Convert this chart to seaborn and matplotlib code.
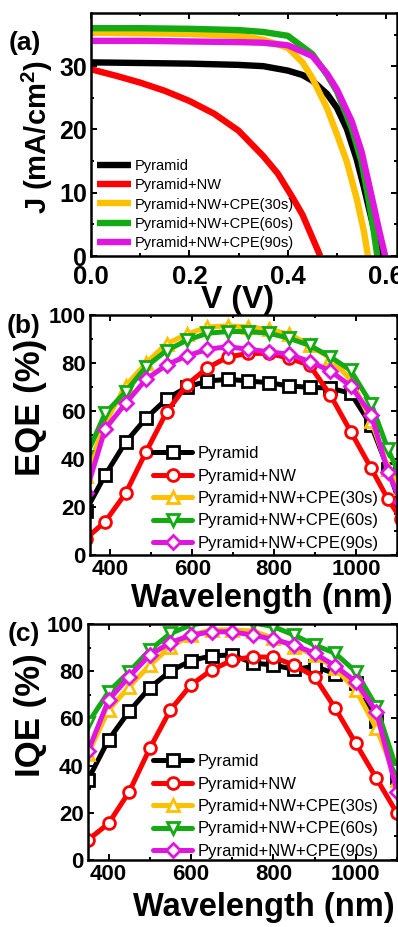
import matplotlib
matplotlib.use("Agg")
import matplotlib.pyplot as plt
import seaborn as sns
import pandas as pd
from matplotlib.ticker import MultipleLocator

# ---------------- data ----------------
labels = ["Pyramid", "Pyramid+NW", "Pyramid+NW+CPE(30s)",
          "Pyramid+NW+CPE(60s)", "Pyramid+NW+CPE(90s)"]
colors = ["#000000", "#FF0000", "#FFC000", "#14AA14", "#E016E0"]
markers = ["s", "o", "^", "v", "D"]

# (a) J-V curves
v_pyr = [0.0, 0.1, 0.2, 0.3, 0.35, 0.4, 0.43, 0.45, 0.48, 0.5, 0.52, 0.54, 0.555, 0.57, 0.58, 0.588]
j_pyr = [30.6, 30.5, 30.4, 30.2, 30.0, 29.3, 28.6, 27.7, 25.6, 23.4, 20.1, 15.3, 10.8, 5.9, 2.6, 0.0]
v_nw = [0.0, 0.05, 0.1, 0.15, 0.2, 0.25, 0.3, 0.35, 0.38, 0.41, 0.43, 0.45, 0.466]
j_nw = [29.5, 28.5, 27.4, 26.1, 24.5, 22.5, 19.8, 15.8, 13.0, 9.2, 6.5, 2.9, 0.0]
v_30 = [0.0, 0.1, 0.2, 0.3, 0.35, 0.4, 0.43, 0.45, 0.48, 0.5, 0.52, 0.54, 0.555, 0.563]
j_30 = [35.3, 35.2, 35.1, 34.8, 34.2, 32.9, 30.6, 28.1, 23.3, 19.2, 14.9, 9.1, 3.8, 0.0]
v_60 = [0.0, 0.1, 0.2, 0.3, 0.35, 0.4, 0.45, 0.48, 0.5, 0.53, 0.55, 0.565, 0.575, 0.582]
j_60 = [36.0, 36.0, 35.9, 35.7, 35.4, 34.8, 31.9, 28.6, 26.0, 20.2, 14.9, 8.6, 3.8, 0.0]
v_90 = [0.0, 0.1, 0.2, 0.3, 0.35, 0.4, 0.45, 0.48, 0.5, 0.53, 0.55, 0.57, 0.585, 0.598]
j_90 = [34.0, 34.0, 33.9, 33.8, 33.7, 33.3, 31.6, 28.8, 26.3, 21.3, 16.5, 9.6, 4.3, 0.0]

# (b) EQE
wl_eqe = [340, 387, 437, 487, 537, 587, 637, 687, 737, 787, 837, 887, 937, 987, 1037, 1078, 1110]
eqe_pyr = [18.5, 33.3, 47, 57, 65, 70, 72.5, 73.2, 72.5, 71.8, 70.4, 69.9, 69.5, 67.4, 54, 36, 20]
eqe_nw = [6.8, 13.9, 25.7, 43, 59.5, 71, 78, 82.5, 84, 84, 82, 79, 66.7, 51.4, 36.1, 23.2, 15]
eqe_30 = [33, 55, 70.5, 80, 88, 92, 95, 95.5, 95, 94, 92, 87.5, 82, 73, 56, 36, 28]
eqe_60 = [41, 59, 68, 78.5, 85.2, 89.5, 92.4, 93.1, 93.1, 92.4, 90.3, 87.3, 82.6, 76.9, 63, 44, 32]
eqe_90 = [26, 52.5, 63.2, 73.2, 79.2, 83, 85.7, 86.8, 85.7, 84.7, 83.6, 80.6, 76.7, 70.4, 58.5, 34.7, 22]

# (c) IQE
wl_iqe = [350, 400, 450, 500, 550, 600, 650, 700, 750, 800, 850, 900, 950, 1000, 1050, 1100]
iqe_pyr = [34, 51, 63, 73, 80, 84.5, 86.5, 86.9, 83.5, 82.6, 80.8, 82, 79, 75, 59, 35]
iqe_nw = [8.5, 15.5, 28.9, 47.3, 63.6, 74.2, 80.5, 84.7, 86.1, 85.9, 82.6, 77.7, 64.3, 49.4, 34.6, 19.8]
iqe_30 = [45, 63.6, 73.4, 82.6, 90.4, 95.3, 97.5, 97.5, 97, 94, 90.4, 86.9, 81.2, 72, 55.8, 34]
iqe_60 = [58, 71.3, 79.8, 89, 96, 99.6, 101, 101, 100.5, 98.9, 95.3, 91.1, 87.6, 79.8, 65, 38]
iqe_90 = [46, 67.8, 77.7, 86.9, 92.1, 95.3, 96.7, 96.7, 95.3, 93.5, 91.1, 87.6, 82.2, 75.6, 62.8, 29]

# ---------------- style ----------------
sns.set_style("ticks")
plt.rcParams["font.family"] = ["Liberation Sans", "DejaVu Sans"]
plt.rcParams["mathtext.fontset"] = "custom"
plt.rcParams["mathtext.rm"] = "Liberation Sans:bold"
plt.rcParams["mathtext.bf"] = "Liberation Sans:bold"
for key in ["text.color", "axes.labelcolor", "xtick.color", "ytick.color", "axes.edgecolor"]:
    plt.rcParams[key] = "black"
plt.rcParams["axes.linewidth"] = 1.8

W, H = 398, 927
fig = plt.figure(figsize=(W / 100, H / 100), dpi=100)


def add_ax(left, top, right, bottom):
    return fig.add_axes([left / W, 1 - bottom / H, (right - left) / W, (bottom - top) / H])


ax_a = add_ax(91, 13, 397, 256)
ax_b = add_ax(90, 315, 397, 555)
ax_c = add_ax(88, 624, 397, 860)

# ---- (a) ----
jv = [(v_pyr, j_pyr), (v_nw, j_nw), (v_30, j_30), (v_60, j_60), (v_90, j_90)]
for (vx, jy), lab, col in zip(jv, labels, colors):
    sns.lineplot(x=vx, y=jy, ax=ax_a, color=col, linewidth=4.6, label=lab,
                 sort=False, errorbar=None, solid_capstyle="butt")
ax_a.set_xlim(0, 0.622)
ax_a.set_ylim(0, 38.4)
ax_a.xaxis.set_major_locator(MultipleLocator(0.2))
ax_a.xaxis.set_minor_locator(MultipleLocator(0.1))
ax_a.yaxis.set_major_locator(MultipleLocator(10))
ax_a.yaxis.set_minor_locator(MultipleLocator(5))
ax_a.set_xticks([0.0, 0.2, 0.4, 0.6])
ax_a.set_xticklabels(["0.0", "0.2", "0.4", "0.6"])
for t in ax_a.get_xticklabels():
    t.set_fontsize(18.5)
    t.set_fontweight("bold")
for t in ax_a.get_yticklabels():
    t.set_fontsize(18)
    t.set_fontweight("bold")
ax_a.set_xlabel("V (V)", fontsize=23, fontweight="bold")
ax_a.set_ylabel(r"J (mA/cm$^2$)", fontsize=21, fontweight="bold")
ax_a.xaxis.set_label_coords(0.48, -0.12)
ax_a.yaxis.set_label_coords(-0.118, 0.49)
ax_a.legend(loc="upper left", bbox_to_anchor=(97 / W, 1 - 159 / H),
            bbox_transform=fig.transFigure, frameon=False, fontsize=10.5,
            handlelength=2.3, handletextpad=0.3, labelspacing=0.36, borderpad=0,
            borderaxespad=0)

# ---- (b) & (c) ----
def qe_panel(ax, wl, series, ylabel, xl_y, yl_x, yl_y, leg_top, xl_x):
    for vals, lab, col, mk in zip(series, labels, colors, markers):
        sns.lineplot(x=wl, y=vals, ax=ax, color=col, linewidth=3.6, label=lab,
                     marker=mk, markersize=8.5 if mk != "D" else 7.5,
                     markerfacecolor="white", markeredgecolor=col, markeredgewidth=2.0,
                     sort=False, errorbar=None)
    ax.set_xlim(350, 1100)
    ax.set_ylim(0, 100)
    ax.xaxis.set_major_locator(MultipleLocator(200))
    ax.xaxis.set_minor_locator(MultipleLocator(100))
    ax.yaxis.set_major_locator(MultipleLocator(20))
    ax.yaxis.set_minor_locator(MultipleLocator(10))
    ax.set_xticks([400, 600, 800, 1000])
    for t in ax.get_xticklabels() + ax.get_yticklabels():
        t.set_fontsize(16)
        t.set_fontweight("bold")
    ax.set_xlabel("Wavelength (nm)", fontsize=23.5, fontweight="bold")
    ax.set_ylabel(ylabel, fontsize=25, fontweight="bold")
    ax.xaxis.set_label_coords(xl_x, xl_y)
    ax.yaxis.set_label_coords(yl_x, yl_y)
    ax.legend(loc="upper left", bbox_to_anchor=(153 / W, 1 - leg_top / H),
              bbox_transform=fig.transFigure, frameon=False, fontsize=12,
              handlelength=2.35, handletextpad=0.3, labelspacing=0.45, borderpad=0,
              borderaxespad=0)


qe_panel(ax_b, wl_eqe, [eqe_pyr, eqe_nw, eqe_30, eqe_60, eqe_90], "EQE (%)",
         -0.115, -0.14, 0.617, 446, 0.56)
qe_panel(ax_c, wl_iqe, [iqe_pyr, iqe_nw, iqe_30, iqe_60, iqe_90], "IQE (%)",
         -0.135, -0.133, 0.614, 754, 0.57)

for ax in (ax_a, ax_b, ax_c):
    ax.tick_params(which="both", direction="in", top=True, right=True, width=1.4, pad=3,
                   color="black", labelcolor="black")
    ax.tick_params(which="major", length=4.5)
    ax.tick_params(which="minor", length=2.5)
    for s in ax.spines.values():
        s.set_linewidth(1.8)
        s.set_color("black")
ax_a.tick_params(axis="x", which="major", pad=6.5)

# panel labels
for txt, (px, py) in zip(["(a)", "(b)", "(c)"], [(25, 43), (24, 326), (24, 634)]):
    fig.text(px / W, 1 - py / H, txt, ha="center", va="center", fontsize=19,
             fontweight="bold", color="black")

fig.savefig("out.png", dpi=100)
